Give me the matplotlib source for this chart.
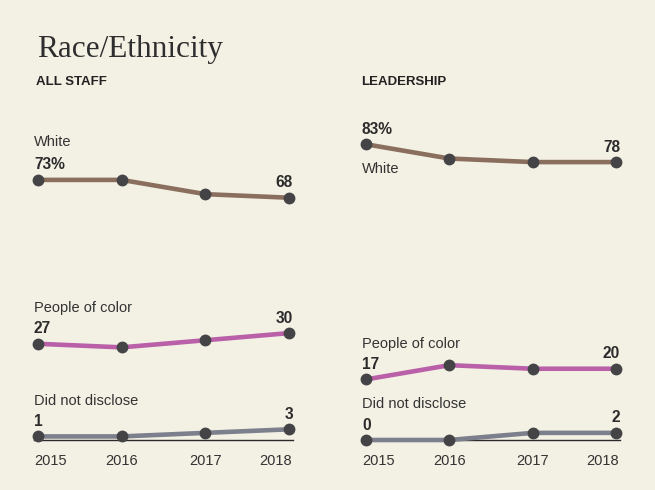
import matplotlib
matplotlib.use("Agg")
import matplotlib.pyplot as plt

years = [2015, 2016, 2017, 2018]
year_labels = ["2015", "2016", "2017", "2018"]

categories = ["White", "People of color", "Did not disclose"]

all_white = [73, 73, 69, 68]
all_poc = [27, 26, 28, 30]
all_nd = [1, 1, 2, 3]

lead_white = [83, 79, 78, 78]
lead_poc = [17, 21, 20, 20]
lead_nd = [0, 0, 2, 2]

colors = ["#8b6f5e", "#b960a8", "#7c7f8c"]
BG = "#f3f0e4"
TXT = "#333333"
MARK = "#444446"

plt.rcParams['font.family'] = ['Liberation Sans', 'DejaVu Sans']

fig = plt.figure(figsize=(6.55, 4.9), dpi=100, facecolor=BG)
W, H = 655, 490

def make_ax(x0, x1):
    ax = fig.add_axes([x0 / W, (H - 440) / H, (x1 - x0) / W, 90 * 3.563 / H])
    ax.set_xlim(years[0], years[-1])
    ax.set_ylim(0, 90)
    ax.axis("off")
    return ax

ax_l = make_ax(38, 289)
ax_r = make_ax(366, 616)

def draw_panel(ax, series, cat_offsets):
    span = ax.get_position().width * W
    ext = 4 / span
    ax.axhline(0, xmin=-ext, xmax=1 + ext, color="#2a2a2a", lw=1.0,
               clip_on=False, zorder=1)
    for i, (vals, col, cat) in enumerate(zip(series, colors, categories)):
        ax.plot(years, vals, color=col, lw=3.3, solid_capstyle="butt",
                zorder=2 + i, clip_on=False)
        ax.plot(years, vals, ls="none", marker="o", ms=7.5, color=MARK,
                mec=MARK, zorder=10, clip_on=False)
        first = f"{vals[0]}%" if i == 0 else f"{vals[0]}"
        ax.annotate(first, xy=(years[0], vals[0]), xytext=(-4, 10.5),
                    textcoords="offset pixels", ha="left", va="baseline",
                    fontsize=11.2, fontweight="bold", color="#2b2b2b")
        ax.annotate(f"{vals[-1]}", xy=(years[-1], vals[-1]), xytext=(4, 10.5),
                    textcoords="offset pixels", ha="right", va="baseline",
                    fontsize=11.2, fontweight="bold", color="#2b2b2b")
        ax.annotate(cat, xy=(years[0], vals[0]), xytext=(-4, cat_offsets[i]),
                    textcoords="offset pixels", ha="left", va="baseline",
                    fontsize=10.5, color=TXT)
    for j, (yr, lab) in enumerate(zip(years, year_labels)):
        if j == 0:
            ha, dx = "left", -4
        elif j == len(years) - 1:
            ha, dx = "right", 3
        else:
            ha, dx = "center", 0
        ax.annotate(lab, xy=(yr, 0), xytext=(dx, -25),
                    textcoords="offset pixels", ha=ha, va="baseline",
                    fontsize=10.5, color=TXT)

draw_panel(ax_l, [all_white, all_poc, all_nd], [34, 32, 31])
draw_panel(ax_r, [lead_white, lead_poc, lead_nd], [-29, 31, 32])

fig.text(37 / W, 1 - 57 / H, "Race/Ethnicity", family=["Liberation Serif", "DejaVu Serif"],
         fontsize=22.5, color="#2e2e2e", ha="left", va="baseline")
fig.text(36 / W, 1 - 84.7 / H, "ALL STAFF", fontsize=9.5, fontweight="bold",
         color="#222222", ha="left", va="baseline")
fig.text(361 / W, 1 - 84.7 / H, "LEADERSHIP", fontsize=9.5, fontweight="bold",
         color="#222222", ha="left", va="baseline")

fig.savefig("out.png", dpi=100, facecolor=BG)
